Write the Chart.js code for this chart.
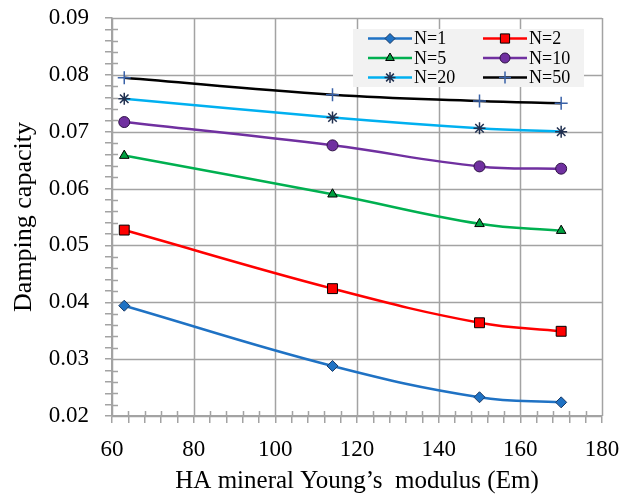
<!DOCTYPE html>
<html>
<head>
<meta charset="utf-8">
<script src="https://cdn.jsdelivr.net/npm/chart.js@4"></script>
<style>
  html, body { margin: 0; padding: 0; background: #fff; }
  canvas { display: block; }
</style>
</head>
<body>
<canvas id="chart" width="625" height="502"></canvas>
<script>
// HA mineral Young's modulus (Em)
var modulus = [63, 114, 150, 170];
var seriesNames = ['N=1', 'N=2', 'N=5', 'N=10', 'N=20', 'N=50'];
var dampN1 = [0.0394, 0.0288, 0.0233, 0.0224];
var dampN2 = [0.0527, 0.0424, 0.0364, 0.0349];
var dampN5 = [0.0658, 0.0590, 0.0538, 0.0526];
var dampN10 = [0.0717, 0.0676, 0.0639, 0.0635];
var dampN20 = [0.0758, 0.0725, 0.0706, 0.0700];
var dampN50 = [0.0795, 0.0765, 0.0754, 0.0750];
var xTickLabels = [60, 80, 100, 120, 140, 160, 180];
var yTickLabels = ['0.02', '0.03', '0.04', '0.05', '0.06', '0.07', '0.08', '0.09'];

var GRID = '#a3a3a3';
var SERIF = "'Liberation Serif', 'DejaVu Serif', serif";

function toPoints(ys) {
  return ys.map(function(y, i) { return { x: modulus[i], y: y }; });
}

function isMajorX(v) { return Math.abs(v - Math.round(v)) < 1e-6 && xTickLabels.indexOf(Math.round(v)) >= 0; }
function isMajorY(v) { return Math.abs(v * 100 - Math.round(v * 100)) < 1e-6 && yTickLabels.indexOf(v.toFixed(2)) >= 0; }

var styles = [
  { line: '#1f72c4', fill: '#1f72c4', border: '#1a3a66', shape: 'rectRot', r: 5.5 },
  { line: '#ff0000', fill: '#ff0000', border: '#000000', shape: 'rect', r: 7 },
  { line: '#00b050', fill: '#00a040', border: '#000000', shape: 'triangle', r: 5.5 },
  { line: '#7030a0', fill: '#7030a0', border: '#2e1245', shape: 'circle', r: 5.5 },
  { line: '#00b0f0', fill: '#203050', border: '#203050', shape: 'star', r: 6 },
  { line: '#000000', fill: '#3a62a8', border: '#3a62a8', shape: 'cross', r: 6.5 }
];
var allSeries = [dampN1, dampN2, dampN5, dampN10, dampN20, dampN50];

var datasets = allSeries.map(function(ys, i) {
  var s = styles[i];
  return {
    label: seriesNames[i],
    data: toPoints(ys),
    borderColor: s.line,
    borderWidth: 2.5,
    tension: 0.4,
    pointStyle: s.shape,
    pointRadius: s.r,
    pointBackgroundColor: s.fill,
    pointBorderColor: s.border,
    pointBorderWidth: (s.shape === 'star' || s.shape === 'cross') ? 1.5 : 1
  };
});

// major grid lines + the inner half of the minor tick marks
var gridLines = {
  id: 'gridLines',
  beforeDatasetsDraw: function(chart) {
    var ctx = chart.ctx;
    var xs = chart.scales.x, ys = chart.scales.y;
    var area = chart.chartArea;
    ctx.save();
    ctx.strokeStyle = GRID;
    ctx.lineWidth = 1.5;
    ctx.beginPath();
    xs.ticks.forEach(function(t) {
      var px = Math.round(xs.getPixelForValue(t.value)) + 0.5;
      ctx.moveTo(px, area.bottom);
      ctx.lineTo(px, isMajorX(t.value) ? area.top : area.bottom - 5);
    });
    ys.ticks.forEach(function(t) {
      var py = Math.round(ys.getPixelForValue(t.value)) + 0.5;
      ctx.moveTo(area.left, py);
      ctx.lineTo(isMajorY(t.value) ? area.right : area.left + 6, py);
    });
    ctx.stroke();
    ctx.restore();
  }
};

// excel-style legend box, two columns
var legendBox = {
  id: 'legendBox',
  afterDatasetsDraw: function(chart) {
    var ctx = chart.ctx;
    var area = chart.chartArea;
    var bx = area.right - 249, by = area.top + 11, bw = 231, bh = 58;
    ctx.save();
    ctx.fillStyle = '#f2f2f2';
    ctx.fillRect(bx, by, bw, bh);
    ctx.font = '18px ' + SERIF;
    ctx.textBaseline = 'middle';
    ctx.textAlign = 'left';
    chart.data.datasets.forEach(function(ds, i) {
      var col = i % 2, row = Math.floor(i / 2);
      var x0 = bx + 15 + col * 115;
      var y0 = by + 9.5 + row * 19.5;
      ctx.strokeStyle = ds.borderColor;
      ctx.lineWidth = 2.5;
      ctx.beginPath();
      ctx.moveTo(x0, y0);
      ctx.lineTo(x0 + 44, y0);
      ctx.stroke();
      ctx.fillStyle = ds.pointBackgroundColor;
      ctx.strokeStyle = ds.pointBorderColor;
      ctx.lineWidth = ds.pointBorderWidth;
      Chart.helpers.drawPoint(ctx, { pointStyle: ds.pointStyle, radius: ds.pointRadius - 0.5, borderWidth: ds.pointBorderWidth }, x0 + 22, y0);
      ctx.fillStyle = '#000';
      ctx.fillText(ds.label, x0 + 46, y0 + 1);
    });
    ctx.restore();
  }
};

new Chart(document.getElementById('chart'), {
  type: 'line',
  data: { datasets: datasets },
  plugins: [gridLines, legendBox],
  options: {
    responsive: false,
    animation: false,
    layout: { padding: { top: 18, right: 23, left: 0, bottom: 0 } },
    plugins: { legend: { display: false }, tooltip: { enabled: false } },
    scales: {
      x: {
        type: 'linear',
        min: 60,
        max: 180,
        afterFit: function(scale) {
          scale.height = 86;
          scale.paddingLeft = 0;
          scale.paddingRight = 0;
        },
        ticks: {
          stepSize: 4,
          autoSkip: false,
          maxRotation: 0,
          padding: 13,
          color: '#000',
          font: { family: SERIF, size: 23 },
          callback: function(v) { return isMajorX(v) ? String(Math.round(v)) : ''; }
        },
        grid: {
          drawOnChartArea: false,
          tickColor: GRID,
          tickLength: 7,
          lineWidth: 1.5
        },
        border: { color: GRID, width: 1.5 },
        title: {
          display: true,
          text: 'HA mineral Young\u2019s  modulus (Em)',
          color: '#000',
          font: { family: SERIF, size: 25 },
          padding: { top: 0, bottom: 6 }
        }
      },
      y: {
        min: 0.02,
        max: 0.09,
        afterFit: function(scale) {
          scale.width = 112;
          scale.paddingTop = 0;
          scale.paddingBottom = 0;
        },
        ticks: {
          stepSize: 0.002,
          autoSkip: false,
          padding: 16,
          color: '#000',
          font: { family: SERIF, size: 23 },
          callback: function(v) { return isMajorY(v) ? v.toFixed(2) : ''; }
        },
        grid: {
          drawOnChartArea: false,
          tickColor: GRID,
          tickLength: 7,
          lineWidth: 1.5
        },
        border: { color: GRID, width: 1.5 },
        title: {
          display: true,
          text: 'Damping capacity',
          color: '#000',
          font: { family: SERIF, size: 26 },
          padding: { top: 9, bottom: 0 }
        }
      }
    }
  }
});
</script>
</body>
</html>
